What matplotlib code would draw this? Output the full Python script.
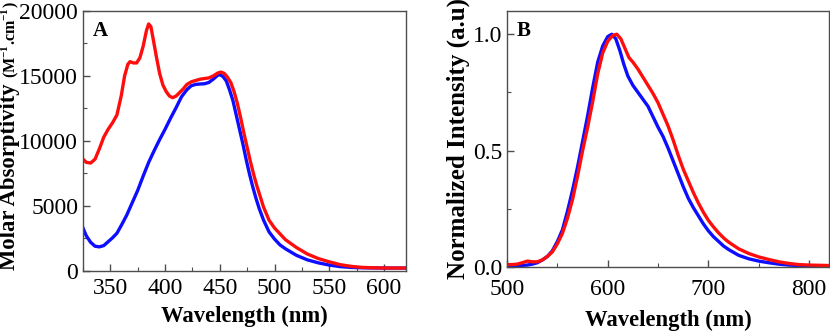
import matplotlib
matplotlib.use("Agg")
import matplotlib.pyplot as plt
from matplotlib.ticker import MultipleLocator, FormatStrFormatter

plt.rcParams['font.family'] = ['Liberation Serif', 'DejaVu Serif']
plt.rcParams['mathtext.fontset'] = 'custom'
plt.rcParams['mathtext.rm'] = 'Liberation Serif:bold'
plt.rcParams['mathtext.bf'] = 'Liberation Serif:bold'

# Panel A: absorption
abs_wl_red = [325, 328, 332, 336, 340, 344, 348, 352, 356, 360, 363, 366, 368, 371, 374, 377,
              380, 383, 385, 387, 389, 392, 395, 398, 401, 404, 407, 410, 413, 416, 420, 424,
              428, 432, 436, 440, 444, 448, 451, 454, 457, 460, 463, 466, 469, 472, 475, 478,
              481, 484, 487, 490, 495, 500, 505, 510, 520, 530, 540, 550, 560, 570, 580, 590,
              600, 610, 620]
abs_red = [8600, 8350, 8300, 8600, 9400, 10300, 10900, 11400, 12000, 13500, 15000, 15900, 16100,
           16000, 16000, 16400, 17300, 18500, 19000, 18800, 17900, 16500, 15200, 14300, 13800,
           13450, 13330, 13450, 13700, 13950, 14350, 14550, 14650, 14750, 14800, 14850, 15000,
           15220, 15300, 15200, 14900, 14500, 13800, 12900, 11800, 10600, 9500, 8400, 7400, 6500,
           5700, 4900, 3900, 3300, 2850, 2400, 1800, 1300, 950, 700, 480, 350, 270, 240, 225,
           220, 220]

abs_wl_blue = [325, 328, 332, 336, 340, 344, 348, 352, 356, 360, 365, 370, 375, 380, 385, 390,
               395, 400, 405, 410, 415, 420, 424, 428, 432, 436, 440, 444, 448, 450, 453, 456,
               459, 462, 465, 468, 471, 474, 477, 480, 483, 486, 490, 495, 500, 505, 510, 520,
               530, 540, 550, 560, 570, 580, 590, 600, 620]
abs_blue = [3300, 2700, 2200, 1900, 1850, 1950, 2250, 2550, 2900, 3500, 4300, 5250, 6200, 7300,
            8350, 9250, 10100, 10900, 11750, 12550, 13400, 13950, 14250, 14350, 14380, 14400,
            14500, 14750, 15050, 15100, 14950, 14600, 13900, 13100, 12000, 10900, 9800, 8600,
            7500, 6500, 5600, 4800, 3900, 3000, 2450, 2000, 1700, 1200, 850, 620, 450, 330, 270,
            240, 230, 220, 220]

# Panel B: emission
em_wl_red = [500, 505, 510, 515, 520, 525, 530, 535, 540, 545, 550, 555, 560, 565, 570, 575,
             580, 585, 590, 595, 600, 605, 609, 613, 617, 621, 625, 630, 635, 640, 645, 650,
             655, 660, 665, 670, 675, 680, 685, 690, 695, 700, 705, 710, 715, 720, 730, 740,
             750, 760, 770, 780, 790, 800, 820]
em_red = [0.010, 0.010, 0.012, 0.018, 0.025, 0.022, 0.022, 0.030, 0.045, 0.065, 0.100, 0.145,
          0.210, 0.290, 0.390, 0.500, 0.600, 0.710, 0.830, 0.920, 0.970, 0.995, 1.000, 0.980,
          0.940, 0.900, 0.880, 0.850, 0.815, 0.780, 0.745, 0.705, 0.655, 0.605, 0.545, 0.480,
          0.420, 0.370, 0.320, 0.275, 0.235, 0.200, 0.172, 0.147, 0.125, 0.107, 0.078, 0.058,
          0.043, 0.032, 0.022, 0.015, 0.010, 0.008, 0.006]

em_wl_blue = [500, 510, 520, 525, 530, 535, 540, 545, 550, 555, 560, 565, 570, 575, 580, 585,
              590, 595, 600, 604, 608, 612, 616, 620, 625, 630, 635, 640, 645, 650, 655, 660,
              665, 670, 675, 680, 685, 690, 695, 700, 705, 710, 715, 720, 730, 740, 750, 760,
              770, 780, 790, 800, 820]
em_blue = [0.005, 0.005, 0.008, 0.012, 0.018, 0.030, 0.045, 0.070, 0.110, 0.160, 0.240, 0.330,
           0.430, 0.540, 0.650, 0.770, 0.880, 0.950, 0.990, 1.000, 0.980, 0.930, 0.870, 0.820,
           0.780, 0.750, 0.720, 0.690, 0.645, 0.600, 0.560, 0.510, 0.455, 0.400, 0.345, 0.295,
           0.255, 0.220, 0.185, 0.155, 0.130, 0.110, 0.090, 0.075, 0.050, 0.035, 0.025, 0.018,
           0.012, 0.008, 0.006, 0.005, 0.004]

RED = '#ff0d0d'
BLUE = '#0d0dff'
LW = 2.4
TICK_FS = 17
LAB_FS = 16.3

fig = plt.figure(figsize=(8.3, 3.32), dpi=100)
axA = fig.add_axes([0.100, 0.184, 0.389, 0.783])
axB = fig.add_axes([0.611, 0.196, 0.388, 0.771])

axA.plot(abs_wl_blue, abs_blue, color=BLUE, lw=LW)
axA.plot(abs_wl_red, abs_red, color=RED, lw=LW)
axA.set_xlim(325, 620)
axA.set_ylim(0, 20000)
axA.xaxis.set_major_locator(MultipleLocator(50))
axA.xaxis.set_minor_locator(MultipleLocator(25))
axA.yaxis.set_major_locator(MultipleLocator(5000))
axA.yaxis.set_minor_locator(MultipleLocator(2500))
axA.set_xlabel('Wavelength (nm)', fontsize=LAB_FS, fontweight='bold', labelpad=5)
axA.text(0.03, 0.96, 'A', transform=axA.transAxes, fontsize=15, fontweight='bold',
         va='top', ha='left')

axB.plot(em_wl_blue, em_blue, color=BLUE, lw=LW)
axB.plot(em_wl_red, em_red, color=RED, lw=LW)
axB.set_xlim(500, 820)
axB.set_ylim(0, 1.1)
axB.xaxis.set_major_locator(MultipleLocator(100))
axB.xaxis.set_minor_locator(MultipleLocator(50))
axB.yaxis.set_major_locator(MultipleLocator(0.5))
axB.yaxis.set_minor_locator(MultipleLocator(0.25))
axB.yaxis.set_major_formatter(FormatStrFormatter('%.1f'))
axB.set_xlabel('Wavelength (nm)', fontsize=LAB_FS, fontweight='bold', labelpad=7)
axB.set_ylabel('Normalized Intensity (a.u)', fontsize=18, fontweight='bold', labelpad=2)
axB.text(0.03, 0.96, 'B', transform=axB.transAxes, fontsize=15, fontweight='bold',
         va='top', ha='left')

for ax in (axA, axB):
    for s in ax.spines.values():
        s.set_color('#4d4d4d')
        s.set_linewidth(1.0)
    ax.tick_params(which='both', direction='in', labelsize=TICK_FS, color='#4d4d4d')
    ax.tick_params(which='major', length=5, width=1)
    ax.tick_params(which='minor', length=3, width=0.8)
axA.tick_params(axis='x', which='major', pad=5)
axB.tick_params(axis='x', which='major', pad=9)

# Panel A y label: main text plus smaller units
H = 332.0
lab1 = fig.text(10 / 830, (H - 270) / H, 'Molar Absorptivity ', rotation=90,
                fontsize=LAB_FS, fontweight='bold', ha='center', va='bottom')
fig.canvas.draw()
bb = lab1.get_window_extent(fig.canvas.get_renderer())
fig.text(10 / 830, bb.y1 / H, r'(M$^{-1}$.cm$^{-1}$)', rotation=90,
         fontsize=11.5, fontweight='bold', ha='center', va='bottom')

fig.savefig('out.png', dpi=100)
